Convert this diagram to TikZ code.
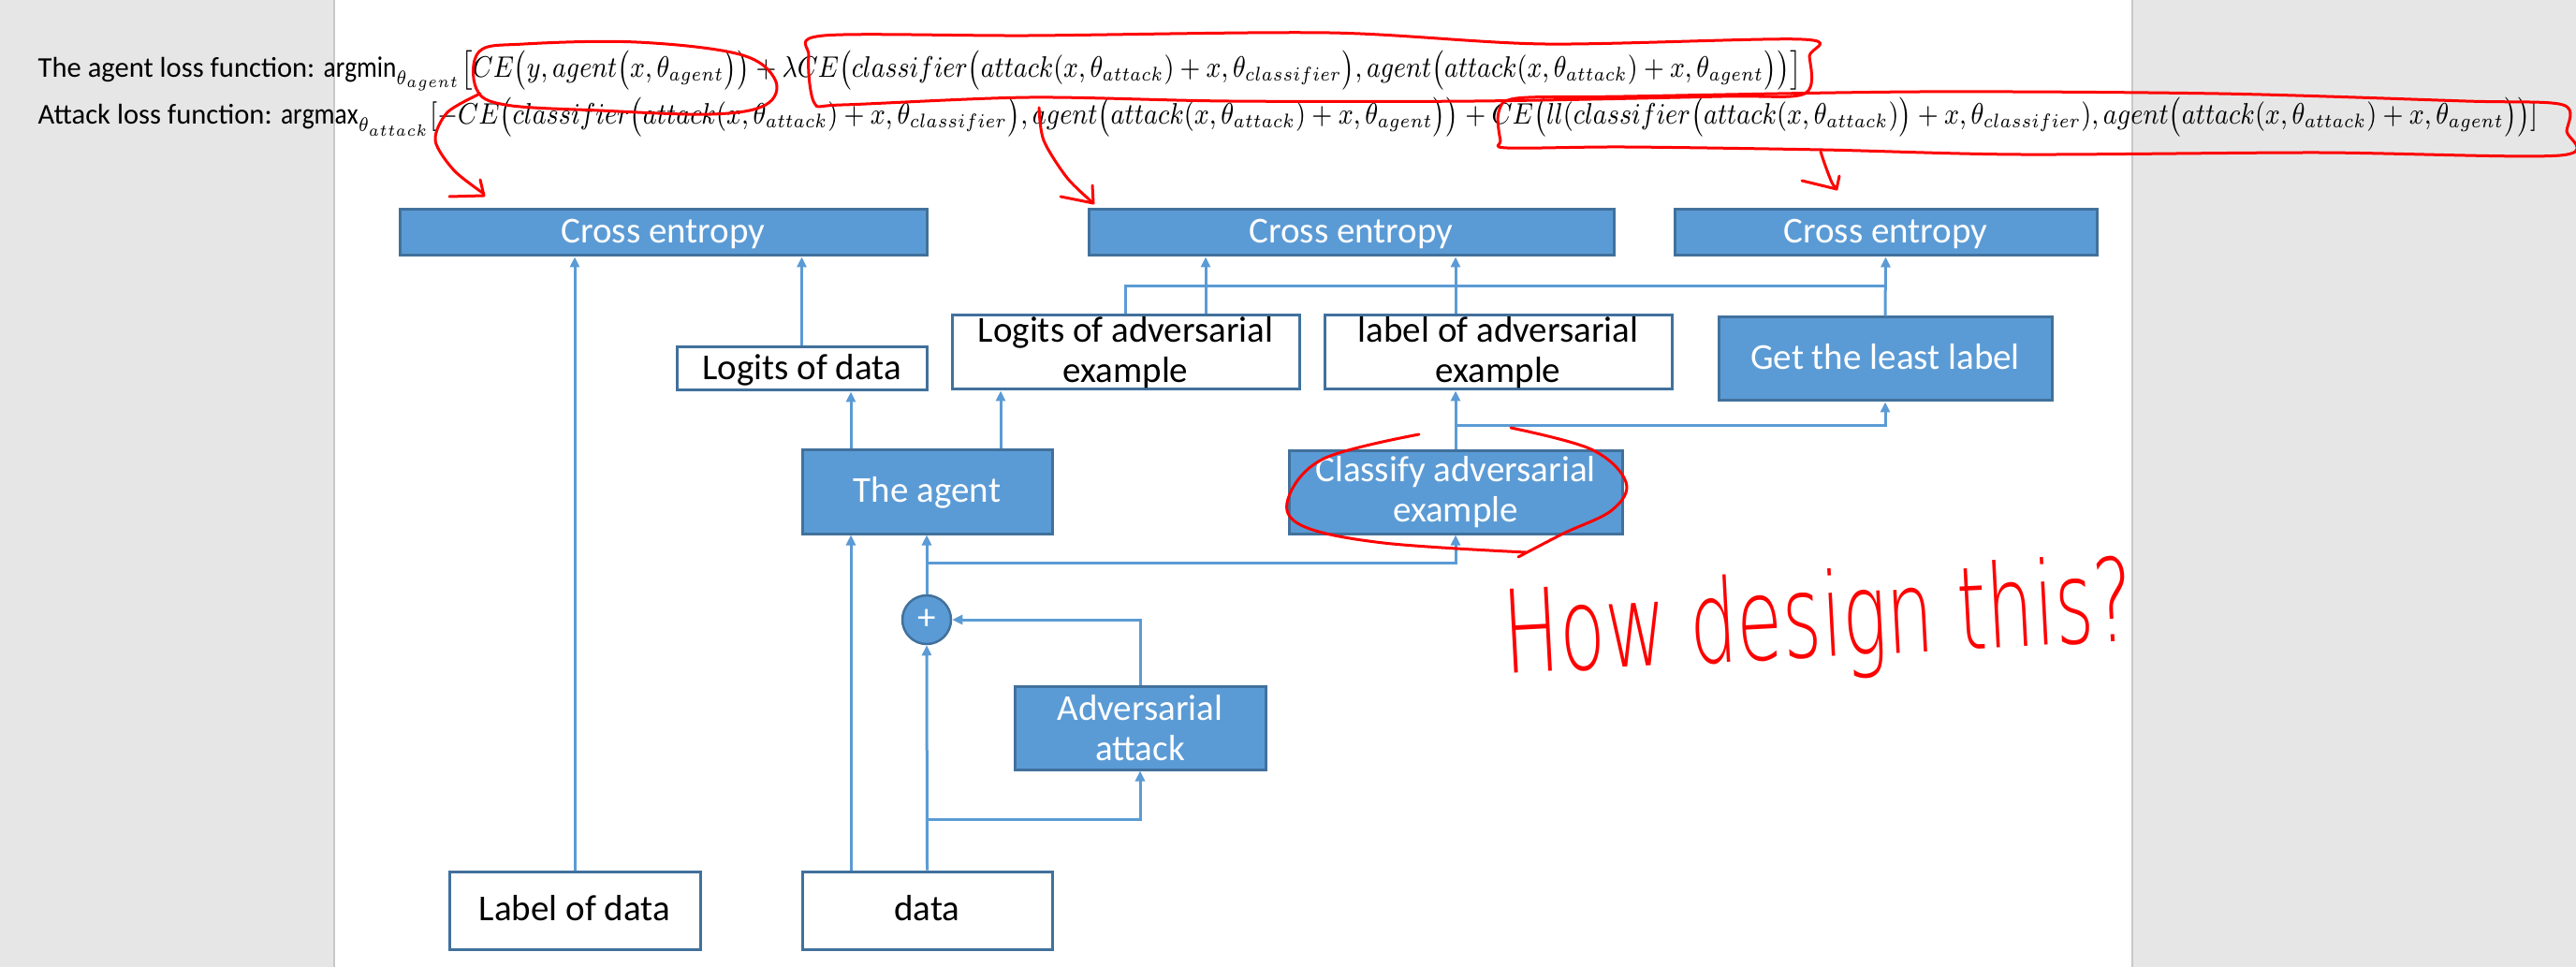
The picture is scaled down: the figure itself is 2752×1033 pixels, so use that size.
\documentclass[tikz,border=0pt]{standalone}
\usepackage{fontspec}
\setmainfont{Carlito}
\newfontfamily\handfont{DejaVu Sans ExtraLight}
\usepackage{graphicx}
\usetikzlibrary{arrows.meta, positioning, calc}
\definecolor{boxblue}{HTML}{5B9BD5}
\definecolor{boxborder}{HTML}{41719C}
\definecolor{pagegray}{HTML}{E6E6E6}
\definecolor{pageedge}{HTML}{C8C8C8}
\definecolor{penred}{HTML}{FF0000}
\newcommand{\mathpart}[2]{\resizebox{#1}{\height}{\fontsize{9}{11}\selectfont$#2$}}
\tikzset{
  box/.style={
    rectangle, inner sep=0pt, align=center,
    line width=0.3mm, draw=boxborder,
    font=\fontsize{11.1}{12.3}\selectfont,
  },
  oneline/.style={text height=0.644em, text depth=0pt},
  bluebox/.style={box, fill=boxblue, text=white},
  whitebox/.style={box, fill=white, text=black},
  plusnode/.style={
    circle, inner sep=0pt, minimum size=5.2mm,
    fill=boxblue, draw=boxborder, line width=0.25mm,
    text=white, font=\fontsize{11.1}{12.3}\selectfont,
  },
  conn/.style={-{Triangle[length=1.1mm, width=1mm]}, line width=0.3mm, boxblue},
  wire/.style={line width=0.3mm, boxblue},
  formula/.style={anchor=base west, inner sep=0pt, font=\fontsize{8.7}{10}\selectfont},
  pen/.style={penred, line width=0.3mm, line cap=round, line join=round},
  pentext/.style={text=penred, inner sep=0pt, font=\handfont\fontsize{20.6}{24}\selectfont},
}

\begin{document}
\begin{tikzpicture}[x=0.1mm, y=-0.1mm]
\useasboundingbox (0,0) rectangle (2752,1033);

% ── page ──────────────────────────────────────────────────────────────
\fill[pagegray] (0,0) rectangle (2752,1033);
\fill[white] (357,0) rectangle (2278,1033);
\draw[pageedge, line width=0.2mm] (357,0) -- (357,1033) (2278,0) -- (2278,1033);

% ── loss functions ───────────────────────────────────────────────────
\node[formula] (agentloss) at (40,83) {The agent loss function: \mathpart{157.9mm}{\mathrm{argmin}_{\theta_{agent}}\bigl[CE\bigl(y,agent\bigl(x,\theta_{agent}\bigr)\bigr)+\lambda CE\bigl(classifier\bigl(attack(x,\theta_{attack})+x,\theta_{classifier}\bigr),agent\bigl(attack(x,\theta_{attack})+x,\theta_{agent}\bigr)\bigr)\bigr]}};
\node[formula] (attackloss) at (40,133) {Attack loss function: \mathpart{241.1mm}{\mathrm{argmax}_{\theta_{attack}}[-CE\bigl(classifier\bigl(attack(x,\theta_{attack})+x,\theta_{classifier}\bigr),agent\bigl(attack(x,\theta_{attack})+x,\theta_{agent}\bigr)\bigr)+CE\bigl(ll(classifier\bigl(attack(x,\theta_{attack})\bigr)+x,\theta_{classifier}),agent\bigl(attack(x,\theta_{attack})+x,\theta_{agent}\bigr)\bigr)]}};

% ── losses ───────────────────────────────────────────────────────────
\node[bluebox, oneline, minimum width=56.3mm, minimum height=4.9mm] (ce1) at (708.5,248.5) {Cross entropy};
\node[bluebox, oneline, minimum width=56.1mm, minimum height=4.9mm] (ce2) at (1443.5,248.5) {Cross entropy};
\node[bluebox, oneline, minimum width=45.1mm, minimum height=4.9mm] (ce3) at (2014.5,248.5) {Cross entropy};

% ── outputs ──────────────────────────────────────────────────────────
\node[whitebox, oneline, minimum width=26.7mm, minimum height=4.6mm] (logdata) at (856.5,394) {Logits of data};
\node[whitebox, minimum width=37.1mm, minimum height=7.9mm] (logadv) at (1202.5,376.5) {Logits of adversarial\\example};
\node[whitebox, minimum width=37.1mm, minimum height=7.9mm] (labadv) at (1600.5,376.5) {label of adversarial\\example};
\node[bluebox, oneline, minimum width=35.6mm, minimum height=8.9mm] (least) at (2014,383.5) {Get the least label};

% ── models ───────────────────────────────────────────────────────────
\node[bluebox, oneline, minimum width=26.7mm, minimum height=9mm] (agent) at (990.5,525) {The agent};
\node[bluebox, minimum width=35.6mm, minimum height=8.9mm] (classify) at (1555,525.5) {Classify adversarial\\example};
\node[plusnode] (plus) at (990,662) {+};
\node[bluebox, minimum width=26.8mm, minimum height=8.9mm] (attack) at (1218,777.5) {Adversarial\\attack};

% ── inputs ───────────────────────────────────────────────────────────
\node[whitebox, oneline, minimum width=26.8mm, minimum height=8.3mm] (labdata) at (614,972.5) {Label of data};
\node[whitebox, oneline, minimum width=26.7mm, minimum height=8.3mm] (data) at (990.5,972.5) {data};

% helper columns for the off-centre arrows
\coordinate (colA) at (909,0);
\coordinate (colB) at (1069,0);
\coordinate (colC) at (1288,0);

% ── arrows up to the losses ──────────────────────────────────────────
\draw[conn] (labdata.north) -- (labdata.north |- ce1.south);
\draw[conn] (logdata.north) -- (logdata.north |- ce1.south);
\draw[conn] (logadv.north -| colC) -- (ce2.south -| colC);
\draw[conn] (labadv.north -| classify.north) -- (ce2.south -| classify.north);
\draw[wire] (logadv.north) |- ($(least.north)!0.5!(ce3.south)$);
\draw[conn] (least.north) -- (ce3.south);

% ── model outputs ────────────────────────────────────────────────────
\draw[conn] (agent.north -| colA) -- (logdata.south -| colA);
\draw[conn] (agent.north -| colB) -- (logadv.south -| colB);
\draw[conn] (classify.north) -- (labadv.south -| classify.north);
\draw[conn] ($(classify.north)!0.4!(classify.north |- labadv.south)$) -| (least.south);

% ── data path ────────────────────────────────────────────────────────
\draw[conn] (data.north -| colA) -- (agent.south -| colA);
\draw[conn] (data.north) -- (plus.south);
\draw[conn] ($(data.north)+(0,-54)$) -| (attack.south);
\draw[conn] (attack.north) |- (plus.east);
\draw[conn] (plus.north) -- (agent.south -| plus.north);
\draw[conn] ($(plus.north)+(0,-33)$) -| (classify.south);

% ── red pen notes ────────────────────────────────────────────────────
\draw[pen] plot[smooth cycle, tension=0.6] coordinates {(509,95) (512,55) (560,47) (680,45) (790,58) (828,85) (818,112) (760,122) (640,118) (540,112)};
\draw[pen] plot[smooth cycle, tension=0.5] coordinates {(870,110) (864,60) (880,38) (1100,38) (1420,35) (1650,47) (1925,42) (1933,60) (1928,100) (1840,103) (1576,108) (1312,108) (1100,104) (900,112)};
\draw[pen] plot[smooth cycle, tension=0.5] coordinates {(1603,150) (1601,120) (1620,105) (1735,103) (2052,98) (2370,100) (2634,108) (2738,112) (2742,140) (2735,166) (2476,163) (2158,165) (1947,160) (1735,157) (1610,158)};
% arrows from the terms down to the losses
\draw[pen] plot[smooth] coordinates {(513,100) (478,120) (465,150) (485,182) (517,207)};
\draw[pen] (480,210) -- (517,209) -- (513,192);
\draw[pen] plot[smooth] coordinates {(1110,115) (1115,150) (1140,190) (1168,217)};
\draw[pen] (1133,210) -- (1168,217) -- (1167,198);
\draw[pen] plot[smooth] coordinates {(1945,162) (1950,177) (1957,195) (1962,202)};
\draw[pen] (1925,193) -- (1962,202) -- (1965,188);
\draw[pen] plot[smooth, tension=0.6] coordinates {(1516,464) (1414,490) (1376,533) (1392,562) (1478,580) (1630,590)};
\draw[pen] plot[smooth, tension=0.6] coordinates {(1614,457) (1700,480) (1737,515) (1722,545) (1670,570) (1622,595)};
\node[pentext, rotate=3] (howq) at (1943,668) {\scalebox{1.1}[1.7]{How design this?}};

\end{tikzpicture}
\end{document}
